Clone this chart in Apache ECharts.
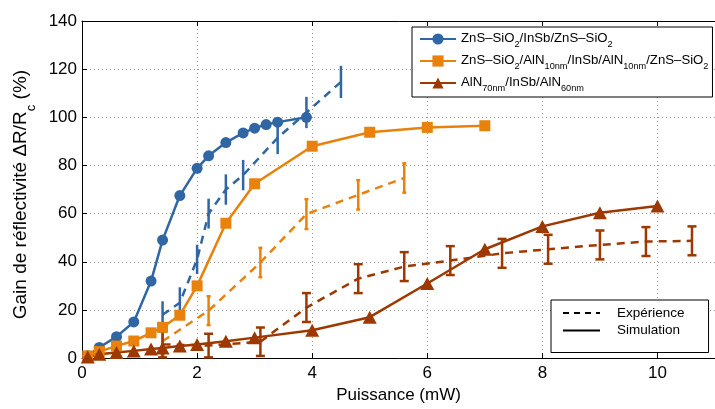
<!DOCTYPE html>
<html>
<head>
<meta charset="utf-8">
<script src="https://cdn.jsdelivr.net/npm/echarts@6/dist/echarts.min.js"></script>
<style>
html,body{margin:0;padding:0;background:#fff;}
#chart{width:715px;height:409px;}
</style>
</head>
<body>
<div id="chart"></div>
<script>
// ---------- data ----------
const xTicks = [0, 2, 4, 6, 8, 10];
const yTicks = [0, 20, 40, 60, 80, 100, 120, 140];

// Simulation (solid lines with markers)
const blueSimX = [0.1, 0.3, 0.6, 0.9, 1.2, 1.4, 1.7, 2.0, 2.2, 2.5, 2.8, 3.0, 3.2, 3.4, 3.9];
const blueSimY = [1, 4.4, 8.9, 15, 32, 49, 67.5, 78.8, 84, 89.5, 93.5, 95.5, 97, 98, 100];

const orangeSimX = [0.1, 0.3, 0.6, 0.9, 1.2, 1.4, 1.7, 2.0, 2.5, 3.0, 4.0, 5.0, 6.0, 7.0];
const orangeSimY = [0.9, 2.7, 5, 7.1, 10.5, 12.8, 17.8, 30, 56, 72.4, 88, 93.8, 95.8, 96.5];

const brownSimX = [0.1, 0.3, 0.6, 0.9, 1.2, 1.4, 1.7, 2.0, 2.5, 3.0, 4.0, 5.0, 6.0, 7.0, 8.0, 9.0, 10.0];
const brownSimY = [0.5, 1.6, 2.3, 3, 3.8, 4.2, 5, 5.6, 7, 8.5, 11.6, 17, 31, 45.2, 54.7, 60.4, 63.2];

// Experiment (dashed lines with error bars)
const blueExpX = [1.4, 1.7, 2.0, 2.2, 2.5, 2.8, 3.4, 3.9, 4.5];
const blueExpY = [18, 23, 41, 60, 70, 76, 91.5, 102, 114.7];
const blueExpE = [5.6, 6.4, 6.1, 6.2, 6.3, 6.3, 6.8, 6.5, 6.7];

const orangeExpX = [1.4, 2.2, 3.1, 3.9, 4.8, 5.6];
const orangeExpY = [7, 19.7, 39.7, 59.8, 67.8, 74.8];
const orangeExpE = [5.5, 6, 6.1, 6.2, 6.1, 6.1];

const brownExpX = [1.4, 2.2, 3.1, 3.9, 4.8, 5.6, 6.4, 7.3, 8.1, 9.0, 9.8, 10.6];
const brownExpY = [5.7, 5.2, 6.8, 21, 33, 38, 40.5, 43.5, 45.2, 47, 48.4, 48.7];
const brownExpE = [5.4, 4.9, 5.9, 6, 6, 6, 6, 6, 6, 6, 6, 6];

const nameBlue = 'ZnS–SiO2/InSb/ZnS–SiO2';
const nameOrange = 'ZnS–SiO2/AlN10nm/InSb/AlN10nm/ZnS–SiO2';
const nameBrown = 'AlN70nm/InSb/AlN60nm';
const nameExp = 'Expérience';
const nameSim = 'Simulation';

// ---------- styling ----------
const BLUE = '#2f66a3';
const ORANGE = '#e8820c';
const BROWN = '#9c3800';
const FONT = "'Liberation Sans', Arial, Helvetica, sans-serif";

const legendRich = {
  n: {fontSize: 13.2, lineHeight: 14, verticalAlign: 'top', padding: [3, 0, 0, 0], fontFamily: FONT, color: '#000'},
  s: {fontSize: 9.2, lineHeight: 20, verticalAlign: 'bottom', fontFamily: FONT, color: '#000'}
};
const legendLabels = {};
legendLabels[nameBlue] = '{n|ZnS–SiO}{s|2}{n|/InSb/ZnS–SiO}{s|2}';
legendLabels[nameOrange] = '{n|ZnS–SiO}{s|2}{n|/AlN}{s|10nm}{n|/InSb/AlN}{s|10nm}{n|/ZnS–SiO}{s|2}';
legendLabels[nameBrown] = '{n|AlN}{s|70nm}{n|/InSb/AlN}{s|60nm}';

function zip(xs, ys) { return xs.map((x, i) => [x, ys[i]]); }
function zip3(xs, ys, es) { return xs.map((x, i) => [x, ys[i], es[i]]); }

function errRender(color, capHalf) {
  return function (params, api) {
    const x = api.value(0), y = api.value(1), e = api.value(2);
    const lo = api.coord([x, y - e]);
    const hi = api.coord([x, y + e]);
    const st = {stroke: color, lineWidth: 2.5};
    const ch = [{type: 'line', shape: {x1: lo[0], y1: lo[1], x2: hi[0], y2: hi[1]}, style: st}];
    if (capHalf > 0) {
      ch.push({type: 'line', shape: {x1: lo[0] - capHalf, y1: lo[1], x2: lo[0] + capHalf, y2: lo[1]}, style: st});
      ch.push({type: 'line', shape: {x1: hi[0] - capHalf, y1: hi[1], x2: hi[0] + capHalf, y2: hi[1]}, style: st});
    }
    return {type: 'group', children: ch};
  };
}

function expLine(name, color, xs, ys) {
  return {
    name: name, type: 'line', data: zip(xs, ys), symbol: 'none',
    lineStyle: {color: color, width: 2.5, type: [8, 6]}, itemStyle: {color: color},
    z: 2, silent: true
  };
}
function errSeries(name, color, capHalf, xs, ys, es) {
  return {
    name: name, type: 'custom', data: zip3(xs, ys, es),
    renderItem: errRender(color, capHalf), encode: {x: 0, y: 1}, z: 3, silent: true
  };
}
function simLine(name, color, symbol, size, xs, ys) {
  return {
    name: name, type: 'line', data: zip(xs, ys), symbol: symbol, symbolSize: size, showSymbol: true,
    lineStyle: {color: color, width: 2.5}, itemStyle: {color: color}, z: 5, silent: true
  };
}

const chart = echarts.init(document.getElementById('chart'), null, {renderer: 'canvas'});
const gridLine = {show: true, lineStyle: {color: '#999', width: 1, type: [1, 3]}};

chart.setOption({
  animation: false,
  backgroundColor: '#fff',
  textStyle: {fontFamily: FONT},
  grid: {left: 82, top: 21, right: -5, bottom: 45, containLabel: false},
  xAxis: [{
    type: 'value', min: 0, max: 11, interval: 2, position: 'bottom',
    name: 'Puissance (mW)', nameLocation: 'middle', nameGap: 24,
    nameTextStyle: {fontSize: 17, color: '#000', fontFamily: FONT},
    axisLine: {show: true, lineStyle: {color: '#000', width: 1}},
    axisTick: {show: true, inside: true, length: 5, lineStyle: {color: '#000'}},
    axisLabel: {fontSize: 17, color: '#000', margin: 7, fontFamily: FONT, showMaxLabel: false,
      formatter: v => (xTicks.indexOf(v) >= 0 ? String(v) : '')},
    splitLine: gridLine
  }, {
    type: 'value', min: 0, max: 11, interval: 2, position: 'top',
    axisLine: {show: true, onZero: false, lineStyle: {color: '#000', width: 1}},
    axisTick: {show: true, inside: true, length: 5, lineStyle: {color: '#000'}},
    axisLabel: {show: false}, splitLine: {show: false}
  }],
  yAxis: [{
    type: 'value', min: 0, max: 140, interval: 20,
    name: '{m|Gain de réflectivité ΔR/R}{c|c}{m| (%)}', nameLocation: 'middle', nameGap: 40,
    nameTextStyle: {
      fontSize: 19, color: '#000', fontFamily: FONT, padding: [0, 10, 0, 0],
      rich: {
        m: {fontSize: 19, lineHeight: 20, verticalAlign: 'top', fontFamily: FONT, color: '#000'},
        c: {fontSize: 13, lineHeight: 26, verticalAlign: 'bottom', fontFamily: FONT, color: '#000'}
      }
    },
    axisLine: {show: true, lineStyle: {color: '#000', width: 1}},
    axisTick: {show: true, inside: true, length: 5, lineStyle: {color: '#000'}},
    axisLabel: {fontSize: 17, color: '#000', margin: 5, fontFamily: FONT,
      formatter: v => (yTicks.indexOf(v) >= 0 ? String(v) : '')},
    splitLine: gridLine
  }],
  legend: [{
    data: [nameBlue, nameOrange, nameBrown],
    orient: 'vertical', left: 412, top: 27,
    padding: [2, 4, 4, 7], itemGap: 2, itemWidth: 36, itemHeight: 14,
    borderColor: '#000', borderWidth: 1, backgroundColor: '#fff',
    selectedMode: false,
    formatter: n => legendLabels[n],
    textStyle: {fontSize: 13.2, color: '#000', fontFamily: FONT, rich: legendRich}
  }, {
    data: [
      {name: nameExp, itemStyle: {opacity: 0}},
      {name: nameSim, itemStyle: {opacity: 0}}
    ],
    orient: 'vertical', left: 551, top: 300,
    padding: [5, 24, 14, 11], itemGap: 1.5, itemWidth: 37, itemHeight: 14,
    borderColor: '#000', borderWidth: 1, backgroundColor: '#fff',
    selectedMode: false,
    textStyle: {fontSize: 13.5, lineHeight: 16, color: '#000', fontFamily: FONT, padding: [0, 0, 0, 12]}
  }],
  series: [
    expLine('blueExp', BLUE, blueExpX, blueExpY),
    expLine('orangeExp', ORANGE, orangeExpX, orangeExpY),
    expLine('brownExp', BROWN, brownExpX, brownExpY),
    errSeries('blueErr', BLUE, 0, blueExpX, blueExpY, blueExpE),
    errSeries('orangeErr', ORANGE, 2, orangeExpX, orangeExpY, orangeExpE),
    errSeries('brownErr', BROWN, 4.5, brownExpX, brownExpY, brownExpE),
    simLine(nameBlue, BLUE, 'circle', 11, blueSimX, blueSimY),
    simLine(nameOrange, ORANGE, 'rect', 11, orangeSimX, orangeSimY),
    simLine(nameBrown, BROWN, 'triangle', [14, 13], brownSimX, brownSimY),
    {name: nameExp, type: 'line', data: [], symbol: 'none', lineStyle: {color: '#000', width: 2.5, type: [6, 5]}, itemStyle: {color: '#000'}},
    {name: nameSim, type: 'line', data: [], symbol: 'none', lineStyle: {color: '#000', width: 2.5}, itemStyle: {color: '#000'}}
  ]
});
</script>
</body>
</html>
